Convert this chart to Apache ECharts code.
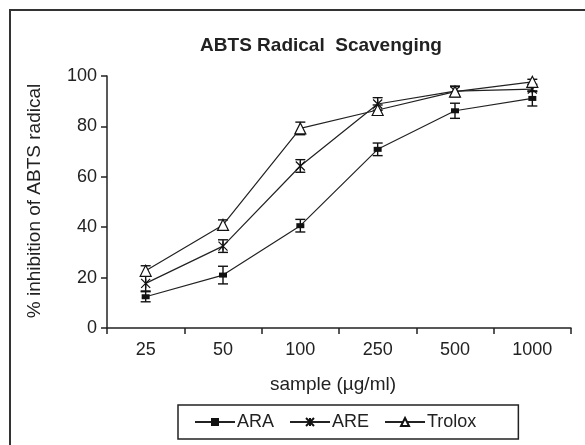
<!DOCTYPE html>
<html>
<head>
<meta charset="utf-8">
<script src="https://cdn.jsdelivr.net/npm/echarts@6/dist/echarts.min.js"></script>
<style>html,body{margin:0;padding:0;background:#fff}#c{width:585px;height:445px}</style>
</head>
<body>
<div id="c"></div>
<script>
var categories = ['25', '50', '100', '250', '500', '1000'];
var araValues = [12.4, 21, 40.6, 70.9, 86.2, 91.1];
var araErrors = [2, 3.5, 2.5, 2.5, 3, 3];
var areValues = [17.7, 32.5, 64.3, 88.9, 94, 94.8];
var areErrors = [3, 2.5, 2.5, 2.5, 2, 1];
var troloxValues = [22.7, 40.9, 79.2, 86.5, 93.8, 97.7];
var troloxErrors = [2, 2, 2.5, 2, 2, 1];
var yTicks = [0, 20, 40, 60, 80, 100];

var FONT = '"Liberation Sans", Arial, sans-serif';
var chart = echarts.init(document.getElementById('c'), null, {renderer: 'canvas'});

function errData(vals, errs) {
  return vals.map(function (v, i) { return [i, v - errs[i], v + errs[i]]; });
}
function errSeries(name, vals, errs) {
  return {
    type: 'custom', name: name + '_err', z: 3, silent: true,
    data: errData(vals, errs),
    encode: {x: 0, y: [1, 2]},
    renderItem: function (params, api) {
      var lo = api.coord([api.value(0), api.value(1)]);
      var hi = api.coord([api.value(0), api.value(2)]);
      var hw = 5;
      var st = {stroke: '#111', lineWidth: 1.4};
      return {type: 'group', children: [
        {type: 'line', shape: {x1: lo[0], y1: lo[1], x2: hi[0], y2: hi[1]}, style: st},
        {type: 'line', shape: {x1: lo[0] - hw, y1: lo[1], x2: lo[0] + hw, y2: lo[1]}, style: st},
        {type: 'line', shape: {x1: hi[0] - hw, y1: hi[1], x2: hi[0] + hw, y2: hi[1]}, style: st}
      ]};
    }
  };
}

var asterisk = 'path://M0,0L10,10M10,0L0,10M5,0L5,10';

chart.setOption({
  backgroundColor: '#fff',
  animation: false,
  title: {
    text: 'ABTS Radical  Scavenging', left: 316, top: 31, textAlign: 'center',
    textStyle: {fontFamily: FONT, fontSize: 19, fontWeight: 'bold', color: '#222'}
  },
  graphic: [
    {type: 'rect', shape: {x: 10, y: 10, width: 620, height: 500}, style: {fill: 'none', stroke: '#333', lineWidth: 2}, z: 100},
    {type: 'text', x: 35, y: 201, rotation: Math.PI / 2, style: {text: '% inhibition of ABTS radical', fill: '#222', font: '19px ' + FONT, textAlign: 'center', textVerticalAlign: 'middle'}},
    {type: 'text', x: 333, y: 385, style: {text: 'sample (µg/ml)', fill: '#222', font: '19px ' + FONT, textAlign: 'center', textVerticalAlign: 'middle'}}
  ],
  legend: {
    left: 178, top: 405,
    padding: [8, 42, 8, 16],
    borderColor: '#222', borderWidth: 1.5,
    itemWidth: 40, itemHeight: 10, itemGap: 15,
    textStyle: {fontFamily: FONT, fontSize: 18, color: '#222', padding: [0, 0, 0, -3]},
    data: ['ARA', 'ARE', 'Trolox']
  },
  grid: {left: 107, right: 14, top: 76, bottom: 117, containLabel: false},
  xAxis: {
    type: 'category', data: categories, boundaryGap: true,
    axisLine: {lineStyle: {color: '#222', width: 1.5}},
    axisTick: {show: true, length: 6, alignWithLabel: false, lineStyle: {color: '#222', width: 1.5}},
    axisLabel: {fontFamily: FONT, fontSize: 18, color: '#222', margin: 13},
    splitLine: {show: false}
  },
  yAxis: {
    type: 'value', min: 0, max: 100, interval: 20,
    axisLine: {show: true, lineStyle: {color: '#222', width: 1.5}},
    axisTick: {show: true, length: 6, lineStyle: {color: '#222', width: 1.5}},
    axisLabel: {fontFamily: FONT, fontSize: 18, color: '#222', margin: 10,
      formatter: function (v) { return yTicks.indexOf(v) >= 0 ? String(v) : ''; }},
    splitLine: {show: false}
  },
  series: [
    {
      name: 'ARA', type: 'line', data: araValues, z: 4,
      symbol: 'rect', symbolSize: [8, 5],
      lineStyle: {color: '#222', width: 1.2},
      itemStyle: {color: '#111', borderWidth: 0}
    },
    {
      name: 'ARE', type: 'line', data: areValues, z: 4,
      symbol: asterisk, symbolSize: 9,
      lineStyle: {color: '#222', width: 1.2},
      itemStyle: {color: '#fff', borderColor: '#111', borderWidth: 1.2}
    },
    {
      name: 'Trolox', type: 'line', data: troloxValues, z: 4,
      symbol: 'triangle', symbolSize: 11,
      lineStyle: {color: '#222', width: 1.2},
      itemStyle: {color: '#fff', borderColor: '#111', borderWidth: 1.2}
    },
    errSeries('ARA', araValues, araErrors),
    errSeries('ARE', areValues, areErrors),
    errSeries('Trolox', troloxValues, troloxErrors)
  ]
});
</script>
</body>
</html>
